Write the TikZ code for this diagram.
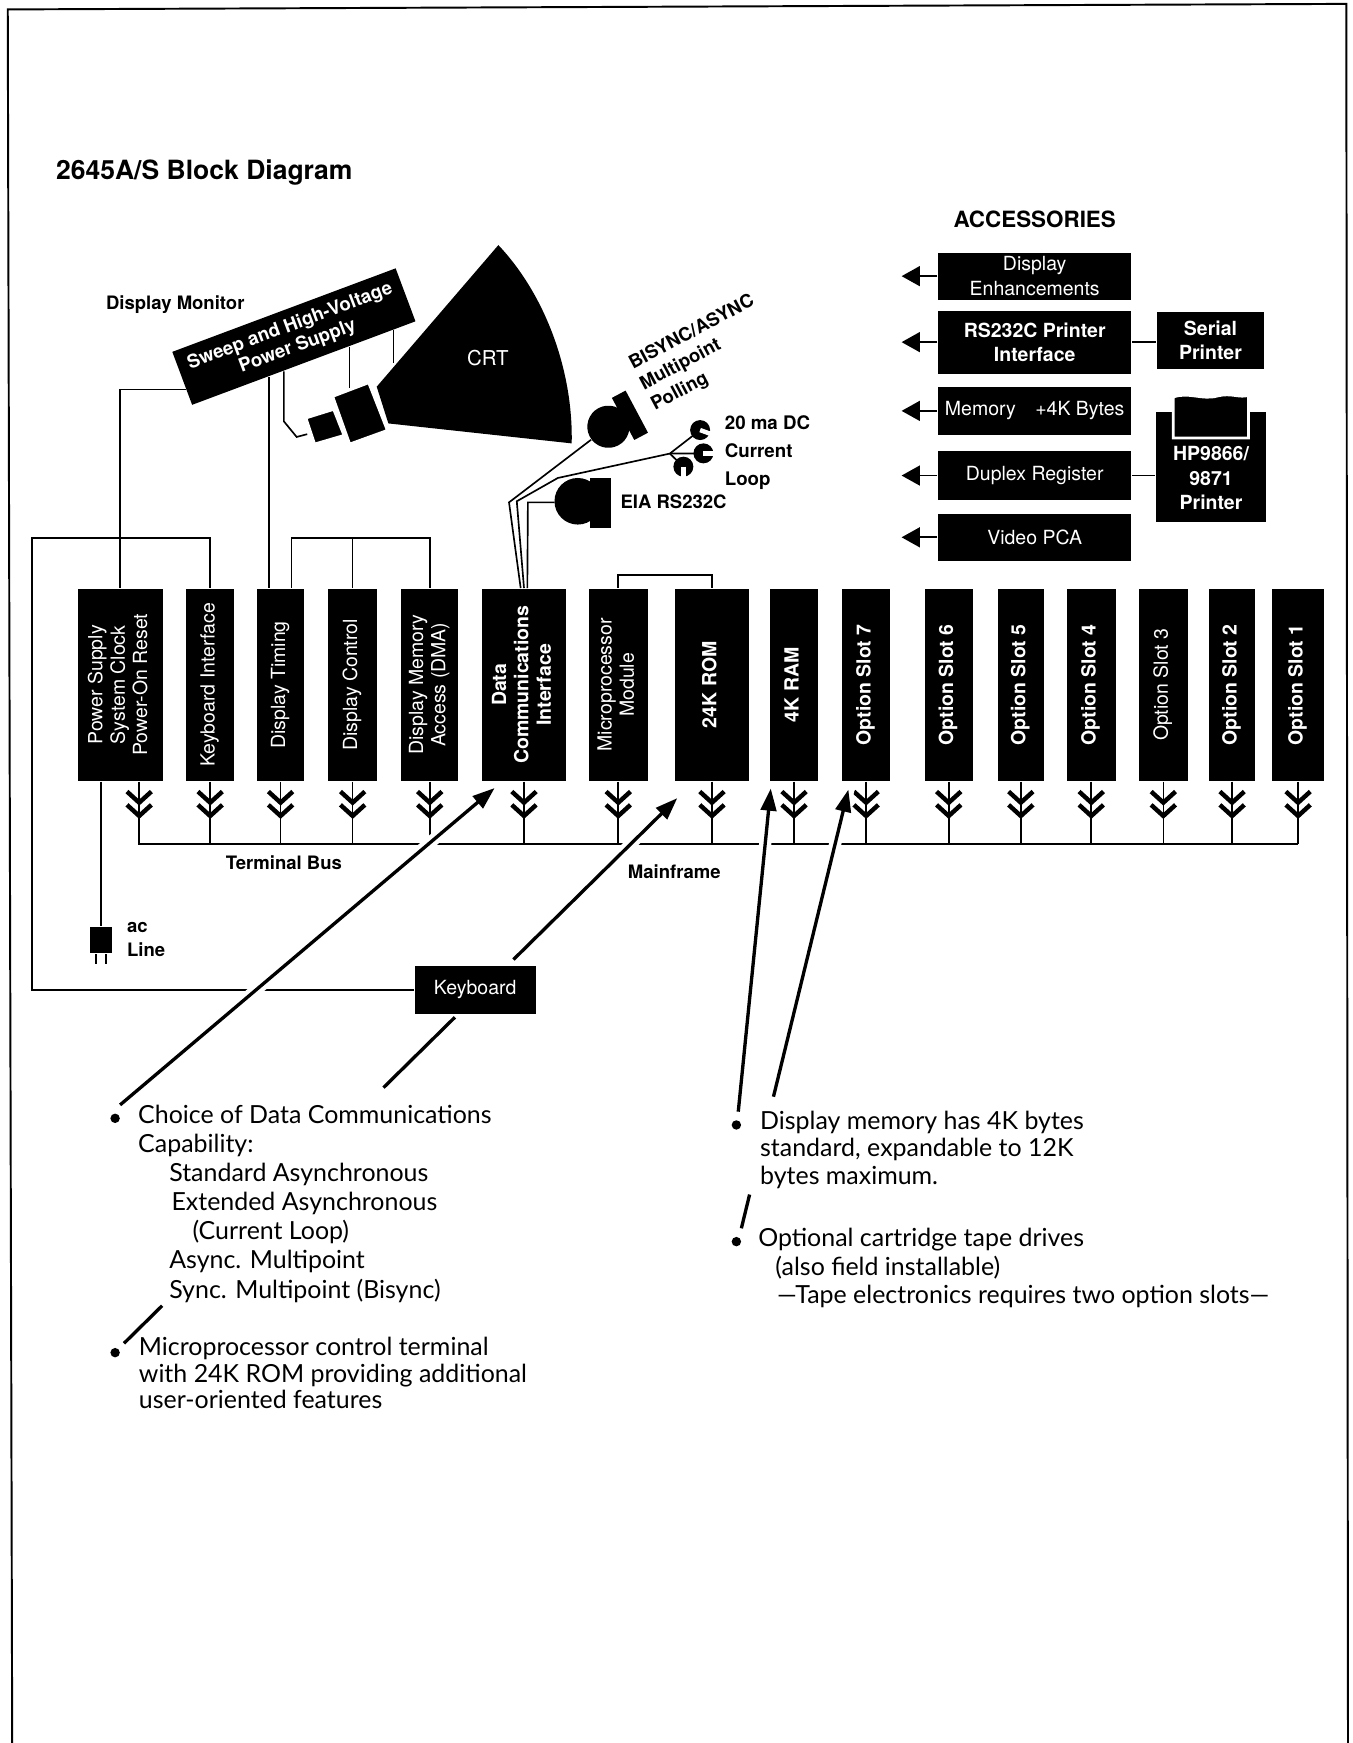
\documentclass[tikz,border=0pt]{standalone}
\usepackage{fontspec}
\usepackage{graphicx}
\setmainfont{TeX Gyre Heros}
\newfontfamily\notefont{Lato}
\usetikzlibrary{calc,arrows.meta}
\newcommand{\vtext}[1]{\rotatebox{90}{\begin{tabular}{@{}c@{}}#1\end{tabular}}}
\newcommand{\lab}{\fontsize{9.5}{12}\selectfont\bfseries}
\tikzset{
  blk/.style={fill=black, text=white, inner sep=0pt, align=center},
  card/.style={blk, minimum height=34.6mm},
  acc/.style={blk, minimum width=34.8mm, font=\fontsize{10}{12.5}\selectfont},
  tip/.style={-{Triangle[length=3.3mm,width=3.6mm]}},
  bar/.style={line width=0.6mm},
  pointer/.style={bar, -{Triangle[length=4mm,width=2.8mm]}, preaction={draw=white, line width=2.2mm, -}},
  note/.style={anchor=north west, inner sep=0pt, align=left},
  dot/.style={circle, fill, inner sep=0pt, minimum size=1.7mm},
  chevs/.pic={\draw[line width=0.8mm] (-11,9) -- (0,19) -- (11,9) (-11,21) -- (0,31) -- (11,21);},
}
\begin{document}
\begin{tikzpicture}[x=0.2mm, y=-0.2mm, line width=0.3mm]
\useasboundingbox (0,0) rectangle (1220,1571.7);
% page frame
\draw[line width=0.35mm] (11,1571.7) -- (7,8.5) -- (1214,3.5) -- (1215.5,1571.7);

\node[anchor=base west, font=\fontsize{13.6}{16}\selectfont\bfseries] (title) at (44,162) {2645A/S Block Diagram};
\node[font=\fontsize{11.5}{13}\selectfont\bfseries] (acctitle) at (933,198) {ACCESSORIES};
\node[anchor=west, font=\lab] (monitor) at (89,275) {Display Monitor};

% display monitor
\node[blk, rotate=20.5, minimum width=43mm, minimum height=10.2mm,
      font=\fontsize{9.6}{11}\selectfont\bfseries] (sweep) at (265,303.5) {Sweep and High-Voltage\\Power Supply};
\fill (339.7,348.7) -- (449.4,221) .. controls (492,266) and (517,335) .. (515.5,399.8) -- (350.2,381.8) -- cycle;
\node[text=white, font=\fontsize{10.5}{12}\selectfont] (crt) at (440,323) {CRT};
\filldraw[draw=white] (300.6,357.7) -- (332.2,345.7) -- (348.7,387.8) -- (315.6,399.8) -- cycle;
\filldraw[draw=white] (276.5,377.2) -- (300.6,369.7) -- (309.6,392.3) -- (284,399.8) -- cycle;

% terminal cards
\foreach \nm/\cx/\w/\fw/\txt in {
    ps/108.5/15.4/\mdseries/{Power Supply\\System Clock\\Power-On Reset},
    kbi/189.5/8.6/\mdseries/{Keyboard Interface},
    dtim/253/8.4/\mdseries/{Display Timing},
    dctl/318/8.8/\mdseries/{Display Control},
    dma/387.5/10.2/\mdseries/{Display Memory\\Access (DMA)},
    dci/472.5/15/\bfseries/{Data\\Communications\\Interface},
    mpm/557.5/10.6/\mdseries/{Microprocessor\\Module},
    rom/642/13.2/\bfseries/{24K ROM},
    ram/716/8.8/\bfseries/{4K RAM},
    slot7/781/8.7/\bfseries/{Option Slot 7},
    slot6/855.5/8.6/\bfseries/{Option Slot 6},
    slot5/920.5/8.2/\bfseries/{Option Slot 5},
    slot4/984/8.8/\bfseries/{Option Slot 4},
    slot3/1049/8.9/\mdseries/{Option Slot 3},
    slot2/1111/8.4/\bfseries/{Option Slot 2},
    slot1/1170.5/9.4/\bfseries/{Option Slot 1}}
  \node[card, minimum width=\w mm, font=\fontsize{10}{11.5}\selectfont\fw] (\nm) at (\cx,617.5) {\vtext{\txt}};

% monitor wiring
\coordinate (s1) at ($(sweep.south west)!0.343!(sweep.south east)$);
\coordinate (s2) at ($(sweep.south west)!0.41!(sweep.south east)$);
\coordinate (s3) at ($(sweep.south west)!0.702!(sweep.south east)$);
\coordinate (s4) at ($(sweep.south west)!0.897!(sweep.south east)$);
\draw ($(sweep.south west)!0.3!(sweep.north west)$) -| (ps.north);
\draw (s1) -- (s1 |- dtim.north);
\draw (s2) -- ++(0,45) -- (267.5,394) -- (277,391.5);
\draw (s3) -- ++(0,37);
\draw (s4) -- ++(0,29);

% data comm connectors
\begin{scope}[rotate around={28:(548.6,384.8)}]
  \fill (548.6,384.8) circle (19);
  \fill (563.6,363.3) rectangle (577.6,406.3);
\end{scope}
\node[rotate=28, anchor=north west, inner sep=0pt, align=left, font=\lab] (bisync) at (564,322) {BISYNC/ASYNC\\Multipoint\\Polling};
\fill (521,452) circle (21);
\fill (532,431) rectangle (551,476);
\node[anchor=west, font=\lab] (eiat) at (553,452) {EIA RS232C};
\coordinate (bis) at (533,396.5);
\coordinate (eia) at (500,453);
\coordinate (loop) at (604,409);
\coordinate (c1) at (631.3,387.8);
\coordinate (c2) at (634.3,408.8);
\coordinate (c3) at (616.2,420.8);
\draw ($(dci.north)+(-3,0)$) -- (459,453) -- (bis);
\draw (dci.north) -- (466,452) -- (503,431) -- (loop);
\draw ($(dci.north)+(3,0)$) -- (476,453) -- (eia);
\foreach \c/\a in {c1/20, c2/0, c3/90} {
  \draw (loop) -- (\c);
  \fill (\c) circle (9);
  \draw[white, line width=0.8mm] (\c) -- ++(\a:11);
}
\node[anchor=west, align=left, font=\fontsize{9.6}{14.2}\selectfont\bfseries] (loopt) at (647,408) {20 ma DC\\Current\\Loop};

% keyboard and interface links
\node[blk, minimum width=21.8mm, minimum height=8.6mm, font=\fontsize{10}{12}\selectfont] (kbd) at (428.5,892.5) {Keyboard};
\coordinate (kcorner) at (29,485);
\coordinate (dgrp) at (263,485);
\draw (kbd.west) -| (kcorner) -| (kbi.north);
\draw ($(dtim.north)+(10,0)$) |- (dma.north |- dgrp) -- (dma.north);
\draw (dctl.north) -- (dctl.north |- dgrp);
\draw (mpm.north) -- ++(0,-12) -| (rom.north);

% ac line
\node[blk, minimum width=4mm, minimum height=4.8mm] (plug) at (91,847.6) {};
\draw (plug.north |- ps.south) -- (plug.north);
\draw ($(plug.south)+(-4.5,0)$) -- ++(0,9);
\draw ($(plug.south)+(4.5,0)$) -- ++(0,9);
\node[anchor=west, align=left, font=\lab] (acl) at (108,847) {ac\\Line};

% terminal bus
\coordinate (bus) at (0,761);
\coordinate (psc) at ($(ps.south)+(17,0)$);
\draw (psc) -- (psc |- bus) -- (slot1.south |- bus);
\pic at (psc) {chevs};
\foreach \nm in {kbi,dtim,dctl,dma,dci,mpm,rom,ram,slot7,slot6,slot5,slot4,slot3,slot2,slot1} {
  \draw (\nm.south) -- (\nm.south |- bus);
  \pic at (\nm.south) {chevs};
}
\node[font=\lab] (tbus) at (256,778) {Terminal Bus};
\node[font=\lab] (mainf) at (608,786) {Mainframe};

% accessories
\node[acc, minimum height=8.5mm] (de) at (933,249) {Display\\Enhancements};
\node[acc, minimum height=11.4mm, font=\fontsize{10}{12.5}\selectfont\bfseries] (rs) at (933,308.5) {RS232C Printer\\Interface};
\node[acc, minimum height=8.7mm] (mem) at (933,370.5) {Memory\quad+4K Bytes};
\node[acc, minimum height=8.8mm] (dup) at (933,428.8) {Duplex Register};
\node[acc, minimum height=8.4mm] (vid) at (933,484.5) {Video PCA};
\node[blk, minimum width=19.4mm, minimum height=10.2mm, font=\fontsize{10}{12.5}\selectfont\bfseries] (serial) at (1091.5,307) {Serial\\Printer};
\node[blk, minimum width=20mm, minimum height=19.7mm] (hp) at (1092,421) {};
\filldraw[draw=white, line width=0.5mm] (1058,395) -- (1058,358) .. controls (1072,353) and (1084,361) .. (1098,357)
  .. controls (1110,354) and (1118,359) .. (1125.7,356.5) -- (1125.7,395) -- cycle;
\node[text=white, align=center, font=\fontsize{10}{12.5}\selectfont\bfseries] (hpt) at (1092,431) {HP9866/\\9871\\Printer};
\coordinate (accx) at (813,0);
\foreach \b in {de,rs,mem,dup,vid}
  \draw[tip] (\b.west) -- (\b.west -| accx);
\draw (rs.east) -- (rs.east -| serial.west);
\draw (dup.east) -- (dup.east -| hp.west);

% notes
\node[dot] (d1) at (103.8,1008.4) {};
\node[dot] (d2) at (103.8,1219.7) {};
\node[dot] (d3) at (664,1014.4) {};
\node[dot] (d4) at (664,1119.6) {};
\node[note, font=\notefont\fontsize{12.8}{14.9}\selectfont] (n1) at (123.9,996) {Choice of Data Communications\\Capability:\\
  \hspace*{5.6mm}Standard Asynchronous\\\hspace*{6mm}Extended Asynchronous\\\hspace*{9.8mm}(Current Loop)\\
  \hspace*{5.6mm}Async. Multipoint\\\hspace*{5.6mm}Sync. Multipoint (Bisync)};
\node[note, font=\notefont\fontsize{12.8}{13.6}\selectfont] (n2) at (124.5,1205) {Microprocessor control terminal\\with 24K ROM providing additional\\user-oriented features};
\node[note, font=\notefont\fontsize{12.8}{14.1}\selectfont] (n3) at (684.7,1001) {Display memory has 4K bytes\\standard, expandable to 12K\\bytes maximum.};
\node[note, font=\notefont\fontsize{12.8}{14.6}\selectfont] (n4) at (683,1107) {Optional cartridge tape drives\\\hspace*{3.1mm}(also field installable)\\\hspace*{3.4mm}—Tape electronics requires two option slots—};

% pointers from the notes
\coordinate (b1) at (108.3,996.3);
\coordinate (b2) at (111.8,1211.3);
\coordinate (b3) at (665.7,1002.4);
\coordinate (b4) at (668.5,1107.6);
\coordinate (t1) at (446,710.6);
\coordinate (t2) at (610.7,719.7);
\coordinate (t3) at (695,711);
\coordinate (t4) at (765,712);
\draw[pointer] (b1) -- (t1);
\draw[bar] (b2) -- ($(b2)!0.069!(t2)$);
\draw[bar] ($(b2)!0.469!(t2)$) -- ($(b2)!0.598!(t2)$);
\draw[pointer] ($(b2)!0.704!(t2)$) -- (t2);
\draw[pointer] (b3) -- (t3);
\draw[bar] (b4) -- ($(b4)!0.077!(t4)$);
\draw[pointer] ($(b4)!0.30!(t4)$) -- (t4);
\end{tikzpicture}
\end{document}
